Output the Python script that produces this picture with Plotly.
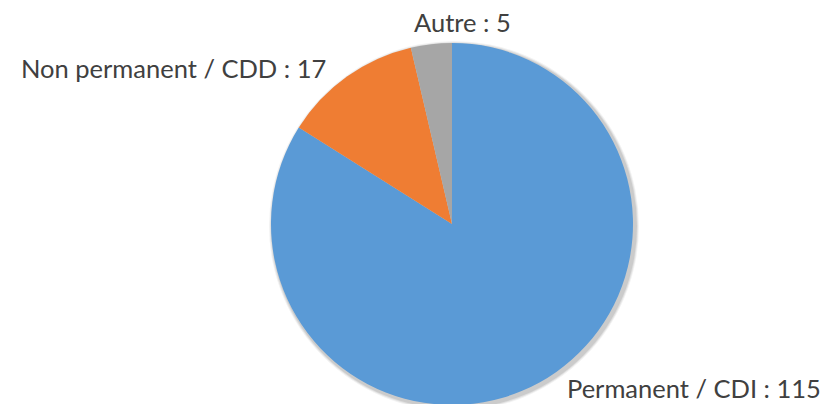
import plotly.graph_objects as go

labels = ["Permanent / CDI", "Non permanent / CDD", "Autre"]
values = [115, 17, 5]
colors = ["#5a9ad6", "#ef7d33", "#a6a6a6"]

W, H = 829, 404
OFF = 8  # page body margin in the browser


def px(x):
    return (x - OFF) / W


def py(y):
    return 1 - (y - OFF) / H


# pie box (viewport pixels)
L, R, T, B = 271, 633, 43, 405

fig = go.Figure()
fig.add_trace(go.Pie(
    labels=labels, values=values, sort=False, direction="clockwise", rotation=0,
    marker=dict(colors=colors, line=dict(width=0)),
    textinfo="none", hoverinfo="label+value", showlegend=False,
    domain=dict(x=[px(L), px(R)], y=[py(B), py(T)]),
))

# soft shadow behind the pie
for d, a in [(4, 0.05), (3, 0.07), (2, 0.09)]:
    fig.add_shape(
        type="circle", xref="paper", yref="paper", layer="below",
        x0=px(L - d + 2), x1=px(R + d + 2), y0=py(B + d + 2), y1=py(T - d + 2),
        fillcolor=f"rgba(0,0,0,{a})", line=dict(width=0),
    )

# label anchor positions (viewport pixels), per category
label_pos = {
    "Permanent / CDI": (823, 388, "right"),
    "Non permanent / CDD": (328, 67.5, "right"),
    "Autre": (462.5, 21.5, "center"),
}
for lab, val in zip(labels, values):
    x, y, anc = label_pos[lab]
    fig.add_annotation(
        x=px(x), y=py(y), xref="paper", yref="paper",
        text=f"{lab} : {val}", showarrow=False,
        xanchor=anc, yanchor="middle",
        font=dict(family="Lato, Carlito, sans-serif", size=25.5, color="#404040"),
    )

fig.update_layout(
    width=W, height=H, margin=dict(l=0, r=0, t=0, b=0),
    paper_bgcolor="white", plot_bgcolor="white",
)
fig.write_html("out.html")
